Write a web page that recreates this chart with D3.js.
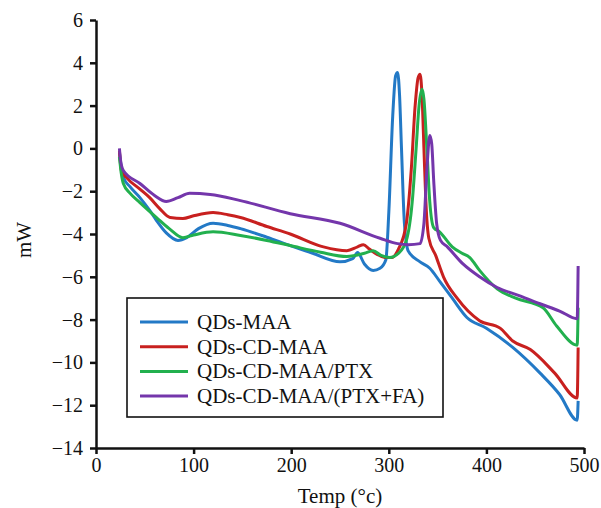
<!DOCTYPE html>
<html>
<head>
<meta charset="utf-8">
<script src="https://cdn.jsdelivr.net/npm/d3@7"></script>
<style>
  body { margin: 0; background: #fff; }
  text { font-family: "Liberation Serif", "DejaVu Serif", serif; fill: #111; }
</style>
</head>
<body>
<script>
var w = 601;
var h = 508;

// series names (legend order)
var names = ["QDs-MAA", "QDs-CD-MAA", "QDs-CD-MAA/PTX", "QDs-CD-MAA/(PTX+FA)"];
var colors = ["#2379c6", "#c8201f", "#22b04e", "#7436ab"];

// values: temperature (°C) and heat flow (mW)
var tempMAA = [24, 26, 28, 35, 45, 55, 62, 72, 84, 93, 105, 120, 135, 148, 175, 199, 222, 250, 263, 268, 275, 284, 291, 297, 300, 304, 307, 309, 311, 313, 316, 320, 332, 342, 352, 365, 380, 400, 427, 455, 475, 493, 494];
var mwMAA   = [-0.2, -0.9, -1.35, -1.8, -2.3, -2.9, -3.37, -3.95, -4.3, -4.17, -3.75, -3.5, -3.6, -3.75, -4.15, -4.54, -4.9, -5.3, -5.15, -4.87, -5.4, -5.7, -5.6, -5.2, -3.0, 1.5, 3.4, 3.55, 2.5, 0, -3.5, -4.8, -5.3, -5.6, -6.2, -7.0, -7.9, -8.4, -9.3, -10.5, -11.5, -12.7, -11.8];

var tempCD = [24, 26, 32, 45, 55, 65, 76, 89, 100, 120, 135, 148, 175, 199, 233, 257, 268, 274, 280, 288, 296, 303, 310, 318, 323, 327, 330, 332, 334, 336, 338, 341, 348, 356, 370, 393, 414, 427, 445, 470, 493, 494];
var mwCD   = [-0.1, -1.03, -1.4, -1.9, -2.3, -2.8, -3.23, -3.28, -3.15, -3.0, -3.1, -3.23, -3.65, -4.0, -4.6, -4.78, -4.6, -4.5, -4.7, -4.95, -5.1, -5.1, -4.7, -3.5, -1.0, 2.0, 3.3, 3.47, 2.5, 0, -2.5, -4.2, -5.0, -6.0, -7.0, -8.05, -8.4, -9.0, -9.4, -10.5, -11.66, -9.3];

var tempPTX = [24, 26, 28, 35, 45, 62, 75, 89, 100, 120, 148, 175, 199, 230, 257, 275, 284, 292, 301, 310, 318, 324, 328, 331, 334, 336, 339, 342, 346, 352, 365, 375, 383, 393, 411, 430, 458, 472, 493, 494];
var mwPTX   = [-0.4, -1.2, -1.64, -2.1, -2.53, -3.23, -3.75, -4.17, -4.05, -3.9, -4.07, -4.3, -4.54, -4.85, -5.05, -4.9, -4.78, -5.0, -5.1, -4.9, -4.3, -2.5, 0, 2.0, 2.76, 2.3, 0, -2.5, -3.7, -3.9, -4.6, -4.9, -5.1, -5.7, -6.56, -7.0, -7.45, -8.3, -9.2, -7.45];

var tempFA = [24, 25, 28, 45, 60, 72, 84, 96, 117, 148, 199, 250, 291, 309, 320, 332, 336, 339, 342, 344, 346, 349, 353, 360, 376, 393, 411, 435, 455, 475, 493, 494];
var mwFA   = [0.0, -0.5, -1.03, -1.64, -2.2, -2.48, -2.3, -2.1, -2.15, -2.44, -3.05, -3.5, -4.2, -4.45, -4.5, -4.45, -3.5, -1.0, 0.6, 0.2, -1.5, -3.5, -4.3, -4.6, -5.4, -6.0, -6.5, -6.9, -7.26, -7.6, -7.96, -5.5];

var xTicks = [0, 100, 200, 300, 400, 500];
var yTicks = [-14, -12, -10, -8, -6, -4, -2, 0, 2, 4, 6];

var series = [
  {name: names[0], t: tempMAA, v: mwMAA},
  {name: names[1], t: tempCD,  v: mwCD},
  {name: names[2], t: tempPTX, v: mwPTX},
  {name: names[3], t: tempFA,  v: mwFA}
];

// plot box (pixels)
var pLeft = 96, pTop = 20, pRight = 584, pBottom = 448;

var svg = d3.select("body").append("svg")
    .attr("width", w)
    .attr("height", h);

var x = d3.scaleLinear().domain([0, 500]).range([pLeft, pRight]);
var y = d3.scaleLinear().domain([-14, 6]).range([pBottom, pTop]);

var line = d3.line()
    .x(function(d) { return x(d[0]); })
    .y(function(d) { return y(d[1]); })
    .curve(d3.curveMonotoneX);

// curves
series.forEach(function(s, i) {
  var pts = s.t.map(function(t, j) { return [t, s.v[j]]; });
  svg.append("path")
    .attr("d", line(pts))
    .attr("fill", "none")
    .attr("stroke", colors[i])
    .attr("stroke-width", 3)
    .attr("stroke-linejoin", "round");
});

// axes
var xAxis = svg.append("g")
    .attr("transform", "translate(0," + pBottom + ")")
    .call(d3.axisBottom(x).tickValues(xTicks).tickSize(6).tickSizeOuter(0).tickPadding(4));
var yAxis = svg.append("g")
    .attr("transform", "translate(" + pLeft + ",0)")
    .call(d3.axisLeft(y).tickValues(yTicks).tickSize(6).tickSizeOuter(0).tickPadding(7)
      .tickFormat(function(d) { return d < 0 ? "\u2212" + Math.abs(d) : d; }));

[xAxis, yAxis].forEach(function(a) {
  a.select(".domain").attr("stroke", "#111").attr("stroke-width", 2.5);
  a.selectAll(".tick line").attr("stroke", "#111").attr("stroke-width", 2.5);
  a.selectAll(".tick text")
    .attr("font-family", "Liberation Serif, serif")
    .attr("font-size", 20)
    .attr("fill", "#111");
});

// axis titles
svg.append("text")
  .attr("x", 340)
  .attr("y", 503)
  .attr("text-anchor", "middle")
  .attr("font-size", 21)
  .text("Temp (\u00b0c)");

svg.append("text")
  .attr("transform", "translate(31,240) rotate(-90)")
  .attr("text-anchor", "middle")
  .attr("font-size", 21)
  .text("mW");

// legend
var lg = svg.append("g");
lg.append("rect")
  .attr("x", 127).attr("y", 298)
  .attr("width", 316).attr("height", 119)
  .attr("fill", "#fff")
  .attr("stroke", "#111")
  .attr("stroke-width", 1.6);

names.forEach(function(n, i) {
  var yy = 322 + i * 24.7;
  lg.append("line")
    .attr("x1", 140).attr("x2", 188)
    .attr("y1", yy).attr("y2", yy)
    .attr("stroke", colors[i])
    .attr("stroke-width", 3);
  lg.append("text")
    .attr("x", 197)
    .attr("y", yy + 7)
    .attr("font-size", 21)
    .text(n);
});
</script>
</body>
</html>
